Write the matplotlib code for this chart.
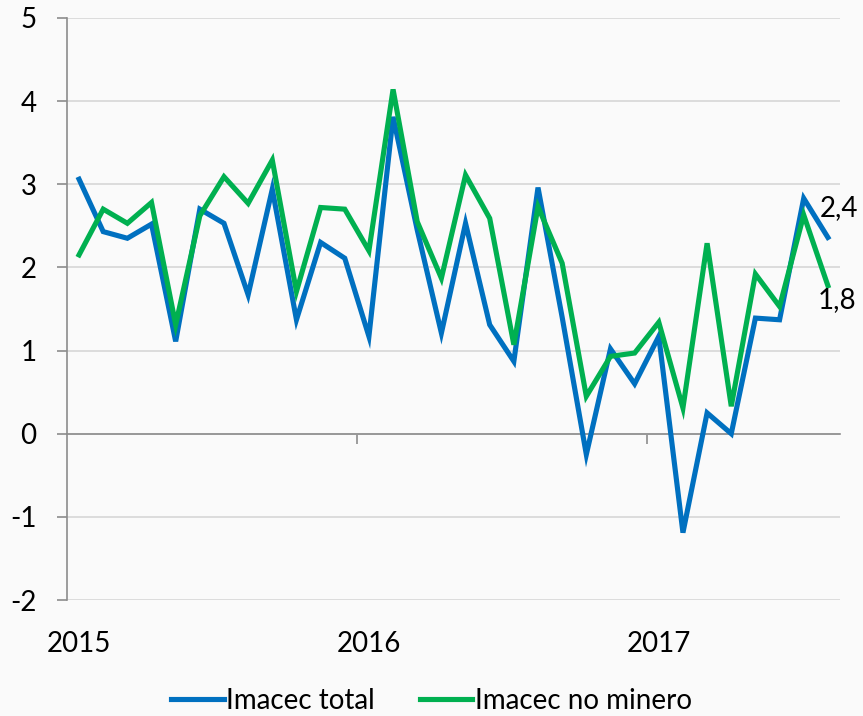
"""Imacec total vs Imacec no minero, monthly y/y change, 2015-2017."""

import matplotlib
matplotlib.use("Agg")
import matplotlib.pyplot as plt
import matplotlib.transforms as mtransforms

plt.rcParams["font.family"] = ["Lato", "DejaVu Sans"]
plt.rcParams["axes.unicode_minus"] = False

# monthly values, Jan 2015 .. Aug 2017
imacec_total = [3.06, 2.43, 2.35, 2.52, 1.11, 2.70, 2.53, 1.67, 2.94, 1.37,
                2.30, 2.11, 1.17, 3.81, 2.45, 1.21, 2.53, 1.31, 0.87, 2.96,
                1.40, -0.25, 1.02, 0.60, 1.17, -1.19, 0.25, 0.00, 1.39, 1.37,
                2.83, 2.36]
imacec_no_minero = [2.15, 2.70, 2.53, 2.78, 1.31, 2.62, 3.09, 2.77, 3.29, 1.71,
                    2.72, 2.70, 2.20, 4.14, 2.55, 1.87, 3.11, 2.59, 1.07, 2.73,
                    2.05, 0.45, 0.93, 0.97, 1.34, 0.31, 2.29, 0.33, 1.92, 1.53,
                    2.63, 1.78]
year_labels = ["2015", "2016", "2017"]
end_labels = ["2,4", "1,8"]

BLUE = "#0070c0"
GREEN = "#00b050"
BG = "#fafafa"
FS = 20

fig = plt.figure(figsize=(8.63, 7.16), dpi=100, facecolor=BG)
ax = fig.add_axes([0.0776, 0.162, 0.8957, 0.813], facecolor=BG)

x = range(len(imacec_total))
ax.plot(x, imacec_total, color=BLUE, lw=3.7, solid_joinstyle="miter",
        label="Imacec total", zorder=3)
ax.plot(x, imacec_no_minero, color=GREEN, lw=3.7, solid_joinstyle="miter",
        label="Imacec no minero", zorder=3)

ax.set_xlim(-0.5, len(imacec_total) - 0.5)
ax.set_ylim(-2, 5)
ax.set_yticks(range(-2, 6))
ax.yaxis.grid(True, color="#d9d9d9", lw=1.3)
ax.set_axisbelow(True)

for s in ("top", "right"):
    ax.spines[s].set_visible(False)
ax.spines["left"].set_color("#8c8c8c")
ax.spines["left"].set_linewidth(1.2)
ax.spines["bottom"].set_position(("data", 0))
ax.spines["bottom"].set_color("#8c8c8c")
ax.spines["bottom"].set_linewidth(1.2)

ax.tick_params(axis="y", length=7, width=1.2, color="#8c8c8c",
               labelsize=FS, pad=15)
ax.set_xticks([11.5, 23.5])
ax.set_xticklabels([])
ax.tick_params(axis="x", length=7, width=1.2, color="#8c8c8c",
               direction="out")

# year labels sit under the plot, centred on each January
trans = mtransforms.blended_transform_factory(ax.transData, ax.transAxes)
for i, lab in enumerate(year_labels):
    ax.text(i * 12, -0.053, lab, transform=trans, ha="center", va="top",
            fontsize=FS)

# end-point value labels
last = len(imacec_total) - 1
ax.annotate(end_labels[0], (last, imacec_total[-1]), xytext=(-6, 21),
            textcoords="offset points", fontsize=FS, ha="left", va="center")
ax.annotate(end_labels[1], (last, imacec_no_minero[-1]), xytext=(-7, -10),
            textcoords="offset points", fontsize=FS, ha="left", va="center")

fig.legend(loc="lower center", bbox_to_anchor=(0.5, -0.032), ncol=2,
           frameon=False, fontsize=FS, handlelength=1.9,
           handletextpad=0.1, columnspacing=1.6)

fig.savefig("out.png", dpi=100, facecolor=BG)
